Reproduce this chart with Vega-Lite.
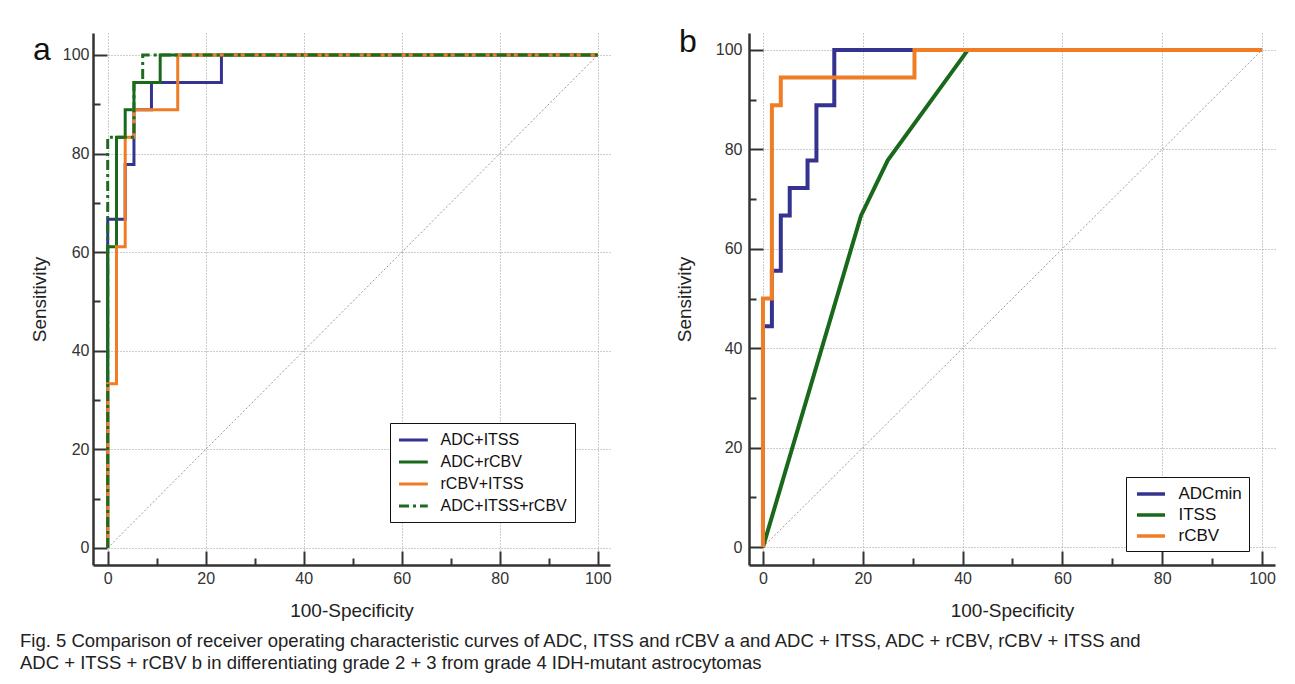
{
  "$schema": "https://vega.github.io/schema/vega-lite/v6.json",
  "background": "white",
  "padding": {"left": 20, "top": 26, "right": 10, "bottom": 10},
  "bounds": "flush",
  "spacing": 139,
  "title": {
    "text": ["Fig. 5  Comparison of receiver operating characteristic curves of ADC, ITSS and rCBV a and ADC + ITSS, ADC + rCBV, rCBV + ITSS and", "ADC + ITSS + rCBV b in differentiating grade 2 + 3 from grade 4 IDH-mutant astrocytomas"],
    "orient": "bottom", "anchor": "start", "frame": "group",
    "font": "Liberation Sans",
    "fontSize": 18.5, "fontWeight": "normal", "color": "#222", "lineHeight": 22, "offset": 12, "dx": -73
  },
  "hconcat": [
    {
      "width": 517, "height": 532,
      "title": {"text": "a", "fontSize": 32, "fontWeight": "normal", "anchor": "start", "frame": "group", "dx": -60, "dy": 38, "color": "#111"},
      "layer": [
        {
          "data": {"values": [{"x": 0, "y": 0}, {"x": 100, "y": 100}]},
          "mark": {"type": "line", "stroke": "#9a9a9a", "strokeWidth": 1, "strokeDash": [2, 2]},
          "encoding": {
            "x": {"field": "x", "type": "quantitative", "scale": {"domain": [-3, 102.5], "nice": false, "zero": false},
              "axis": {"values": [0,5,10,15,20,25,30,35,40,45,50,55,60,65,70,75,80,85,90,95,100],
                "labelExpr": "datum.value % 20 === 0 ? datum.label : ''",
                "tickSize": {"expr": "(datum.value % 20 === 0 ? -14 : -7)"},
                "gridColor": {"condition": {"test": "datum.value % 20 === 0", "value": "#9a9a9a"}, "value": "rgba(0,0,0,0)"},
                "grid": true, "gridDash": [1, 2], "gridWidth": 1,
                "tickWidth": 2, "tickColor": "#333", "domainColor": "#333", "domainWidth": 2.5,
                "labelPadding": 19, "labelFontSize": 16, "labelColor": "#333", "labelFlush": false, "labelOverlap": false,
                "title": "100-Specificity", "titleFontSize": 19, "titleFontWeight": "normal", "titleColor": "#222", "titlePadding": 8}},
            "y": {"field": "y", "type": "quantitative", "scale": {"domain": [-3.45, 104.46], "nice": false, "zero": false},
              "axis": {"values": [0,5,10,15,20,25,30,35,40,45,50,55,60,65,70,75,80,85,90,95,100],
                "labelExpr": "datum.value % 20 === 0 ? datum.label : ''",
                "tickSize": {"expr": "(datum.value % 20 === 0 ? -14 : -7)"},
                "gridColor": {"condition": {"test": "datum.value % 20 === 0", "value": "#9a9a9a"}, "value": "rgba(0,0,0,0)"},
                "grid": true, "gridDash": [1, 2], "gridWidth": 1,
                "tickWidth": 2, "tickColor": "#333", "domainColor": "#333", "domainWidth": 2.5,
                "labelPadding": 18, "labelFontSize": 16, "labelColor": "#333", "labelFlush": false, "labelOverlap": false,
                "title": "Sensitivity", "titleFontSize": 19, "titleFontWeight": "normal", "titleColor": "#222", "titlePadding": 13}}
          }
        },
        {
          "data": {"values": [
            {"s": "ADC+ITSS", "i": 0, "x": 0, "y": 0},
            {"s": "ADC+ITSS", "i": 1, "x": 0, "y": 66.67},
            {"s": "ADC+ITSS", "i": 2, "x": 3.57, "y": 66.67},
            {"s": "ADC+ITSS", "i": 3, "x": 3.57, "y": 77.78},
            {"s": "ADC+ITSS", "i": 4, "x": 5.36, "y": 77.78},
            {"s": "ADC+ITSS", "i": 5, "x": 5.36, "y": 88.89},
            {"s": "ADC+ITSS", "i": 6, "x": 8.93, "y": 88.89},
            {"s": "ADC+ITSS", "i": 7, "x": 8.93, "y": 94.44},
            {"s": "ADC+ITSS", "i": 8, "x": 23.21, "y": 94.44},
            {"s": "ADC+ITSS", "i": 9, "x": 23.21, "y": 100},
            {"s": "ADC+ITSS", "i": 10, "x": 100, "y": 100},
            {"s": "ADC+rCBV", "i": 0, "x": 0, "y": 0},
            {"s": "ADC+rCBV", "i": 1, "x": 0, "y": 61.11},
            {"s": "ADC+rCBV", "i": 2, "x": 1.79, "y": 61.11},
            {"s": "ADC+rCBV", "i": 3, "x": 1.79, "y": 83.33},
            {"s": "ADC+rCBV", "i": 4, "x": 3.57, "y": 83.33},
            {"s": "ADC+rCBV", "i": 5, "x": 3.57, "y": 88.89},
            {"s": "ADC+rCBV", "i": 6, "x": 5.36, "y": 88.89},
            {"s": "ADC+rCBV", "i": 7, "x": 5.36, "y": 94.44},
            {"s": "ADC+rCBV", "i": 8, "x": 10.71, "y": 94.44},
            {"s": "ADC+rCBV", "i": 9, "x": 10.71, "y": 100},
            {"s": "ADC+rCBV", "i": 10, "x": 100, "y": 100},
            {"s": "rCBV+ITSS", "i": 0, "x": 0, "y": 0},
            {"s": "rCBV+ITSS", "i": 1, "x": 0, "y": 33.33},
            {"s": "rCBV+ITSS", "i": 2, "x": 1.79, "y": 33.33},
            {"s": "rCBV+ITSS", "i": 3, "x": 1.79, "y": 61.11},
            {"s": "rCBV+ITSS", "i": 4, "x": 3.57, "y": 61.11},
            {"s": "rCBV+ITSS", "i": 5, "x": 3.57, "y": 83.33},
            {"s": "rCBV+ITSS", "i": 6, "x": 5.36, "y": 83.33},
            {"s": "rCBV+ITSS", "i": 7, "x": 5.36, "y": 88.89},
            {"s": "rCBV+ITSS", "i": 8, "x": 14.29, "y": 88.89},
            {"s": "rCBV+ITSS", "i": 9, "x": 14.29, "y": 100},
            {"s": "rCBV+ITSS", "i": 10, "x": 100, "y": 100},
            {"s": "ADC+ITSS+rCBV", "i": 0, "x": 0, "y": 0},
            {"s": "ADC+ITSS+rCBV", "i": 1, "x": 0, "y": 83.33},
            {"s": "ADC+ITSS+rCBV", "i": 2, "x": 5.36, "y": 83.33},
            {"s": "ADC+ITSS+rCBV", "i": 3, "x": 5.36, "y": 94.44},
            {"s": "ADC+ITSS+rCBV", "i": 4, "x": 7.14, "y": 94.44},
            {"s": "ADC+ITSS+rCBV", "i": 5, "x": 7.14, "y": 100},
            {"s": "ADC+ITSS+rCBV", "i": 6, "x": 100, "y": 100}
          ]},
          "mark": {"type": "line", "strokeWidth": 3, "strokeJoin": "miter"},
          "encoding": {
            "x": {"field": "x", "type": "quantitative"},
            "y": {"field": "y", "type": "quantitative"},
            "order": {"field": "i", "type": "quantitative"},
            "color": {"field": "s", "type": "nominal",
              "scale": {"domain": ["ADC+ITSS", "ADC+rCBV", "rCBV+ITSS", "ADC+ITSS+rCBV"], "range": ["#34338f", "#19691b", "#f07d26", "#1d6b1d"]},
              "legend": {"title": null, "orient": "none", "legendX": 297, "legendY": 390, "symbolType": "M-1,0H2.6", "symbolStrokeWidth": 3, "symbolSize": 256,
                "labelFontSize": 16, "labelColor": "#111", "labelOffset": 24, "strokeColor": "#111", "fillColor": "white", "padding": 7.5, "rowPadding": 4, "labelLimit": 300}},
            "strokeDash": {"field": "s", "type": "nominal",
              "scale": {"domain": ["ADC+ITSS", "ADC+rCBV", "rCBV+ITSS", "ADC+ITSS+rCBV"], "range": [[1, 0], [1, 0], [1, 0], [10, 4, 3, 4]]},
              "legend": {"title": null, "orient": "none", "legendX": 297, "legendY": 390, "symbolType": "M-1,0H2.6", "symbolStrokeWidth": 3, "symbolSize": 256,
                "labelFontSize": 16, "labelColor": "#111", "labelOffset": 24, "strokeColor": "#111", "fillColor": "white", "padding": 7.5, "rowPadding": 4, "labelLimit": 300}}
          }
        }
      ]
    },
    {
      "width": 526, "height": 532,
      "title": {"text": "b", "fontSize": 32, "fontWeight": "normal", "anchor": "start", "frame": "group", "dx": -70, "dy": 30, "color": "#111"},
      "layer": [
        {
          "data": {"values": [{"x": 0, "y": 0}, {"x": 100, "y": 100}]},
          "mark": {"type": "line", "stroke": "#9a9a9a", "strokeWidth": 1, "strokeDash": [2, 2]},
          "encoding": {
            "x": {"field": "x", "type": "quantitative", "scale": {"domain": [-2.8, 102.6], "nice": false, "zero": false},
              "axis": {"values": [0,5,10,15,20,25,30,35,40,45,50,55,60,65,70,75,80,85,90,95,100],
                "labelExpr": "datum.value % 20 === 0 ? datum.label : ''",
                "tickSize": {"expr": "(datum.value % 20 === 0 ? -14 : -7)"},
                "gridColor": {"condition": {"test": "datum.value % 20 === 0", "value": "#9a9a9a"}, "value": "rgba(0,0,0,0)"},
                "grid": true, "gridDash": [1, 2], "gridWidth": 1,
                "tickWidth": 2, "tickColor": "#333", "domainColor": "#333", "domainWidth": 2.5,
                "labelPadding": 19, "labelFontSize": 16, "labelColor": "#333", "labelFlush": false, "labelOverlap": false,
                "title": "100-Specificity", "titleFontSize": 19, "titleFontWeight": "normal", "titleColor": "#222", "titlePadding": 8}},
            "y": {"field": "y", "type": "quantitative", "scale": {"domain": [-3.6, 103.4], "nice": false, "zero": false},
              "axis": {"values": [0,5,10,15,20,25,30,35,40,45,50,55,60,65,70,75,80,85,90,95,100],
                "labelExpr": "datum.value % 20 === 0 ? datum.label : ''",
                "tickSize": {"expr": "(datum.value % 20 === 0 ? -14 : -7)"},
                "gridColor": {"condition": {"test": "datum.value % 20 === 0", "value": "#9a9a9a"}, "value": "rgba(0,0,0,0)"},
                "grid": true, "gridDash": [1, 2], "gridWidth": 1,
                "tickWidth": 2, "tickColor": "#333", "domainColor": "#333", "domainWidth": 2.5,
                "labelPadding": 21, "labelFontSize": 16, "labelColor": "#333", "labelFlush": false, "labelOverlap": false,
                "title": "Sensitivity", "titleFontSize": 19, "titleFontWeight": "normal", "titleColor": "#222", "titlePadding": 21}}
          }
        },
        {
          "data": {"values": [
            {"s": "ADCmin", "i": 0, "x": 0, "y": 0},
            {"s": "ADCmin", "i": 1, "x": 0, "y": 44.44},
            {"s": "ADCmin", "i": 2, "x": 1.79, "y": 44.44},
            {"s": "ADCmin", "i": 3, "x": 1.79, "y": 55.56},
            {"s": "ADCmin", "i": 4, "x": 3.57, "y": 55.56},
            {"s": "ADCmin", "i": 5, "x": 3.57, "y": 66.67},
            {"s": "ADCmin", "i": 6, "x": 5.36, "y": 66.67},
            {"s": "ADCmin", "i": 7, "x": 5.36, "y": 72.22},
            {"s": "ADCmin", "i": 8, "x": 8.93, "y": 72.22},
            {"s": "ADCmin", "i": 9, "x": 8.93, "y": 77.78},
            {"s": "ADCmin", "i": 10, "x": 10.71, "y": 77.78},
            {"s": "ADCmin", "i": 11, "x": 10.71, "y": 88.89},
            {"s": "ADCmin", "i": 12, "x": 14.29, "y": 88.89},
            {"s": "ADCmin", "i": 13, "x": 14.29, "y": 100},
            {"s": "ADCmin", "i": 14, "x": 100, "y": 100},
            {"s": "ITSS", "i": 0, "x": 0, "y": 0},
            {"s": "ITSS", "i": 1, "x": 19.64, "y": 66.67},
            {"s": "ITSS", "i": 2, "x": 25, "y": 77.78},
            {"s": "ITSS", "i": 3, "x": 41.07, "y": 100},
            {"s": "ITSS", "i": 4, "x": 100, "y": 100},
            {"s": "rCBV", "i": 0, "x": 0, "y": 0},
            {"s": "rCBV", "i": 1, "x": 0, "y": 50},
            {"s": "rCBV", "i": 2, "x": 1.79, "y": 50},
            {"s": "rCBV", "i": 3, "x": 1.79, "y": 88.89},
            {"s": "rCBV", "i": 4, "x": 3.57, "y": 88.89},
            {"s": "rCBV", "i": 5, "x": 3.57, "y": 94.44},
            {"s": "rCBV", "i": 6, "x": 30.36, "y": 94.44},
            {"s": "rCBV", "i": 7, "x": 30.36, "y": 100},
            {"s": "rCBV", "i": 8, "x": 100, "y": 100}
          ]},
          "mark": {"type": "line", "strokeWidth": 4, "strokeJoin": "miter"},
          "encoding": {
            "x": {"field": "x", "type": "quantitative"},
            "y": {"field": "y", "type": "quantitative"},
            "order": {"field": "i", "type": "quantitative"},
            "color": {"field": "s", "type": "nominal",
              "scale": {"domain": ["ADCmin", "ITSS", "rCBV"], "range": ["#34338f", "#19691b", "#f07d26"]},
              "legend": {"title": null, "orient": "none", "legendX": 377, "legendY": 444, "symbolType": "M-0.71,0H2.59", "symbolStrokeWidth": 3.5, "symbolSize": 289,
                "labelFontSize": 17, "labelColor": "#111", "labelOffset": 25, "strokeColor": "#111", "fillColor": "white", "padding": 6.5, "rowPadding": 2, "labelLimit": 300}}
          }
        }
      ]
    }
  ],
  "resolve": {"scale": {"color": "independent", "strokeDash": "independent"}, "legend": {"color": "independent"}},
  "config": {
    "font": "Liberation Sans",
    "view": {"stroke": null}
  }
}
